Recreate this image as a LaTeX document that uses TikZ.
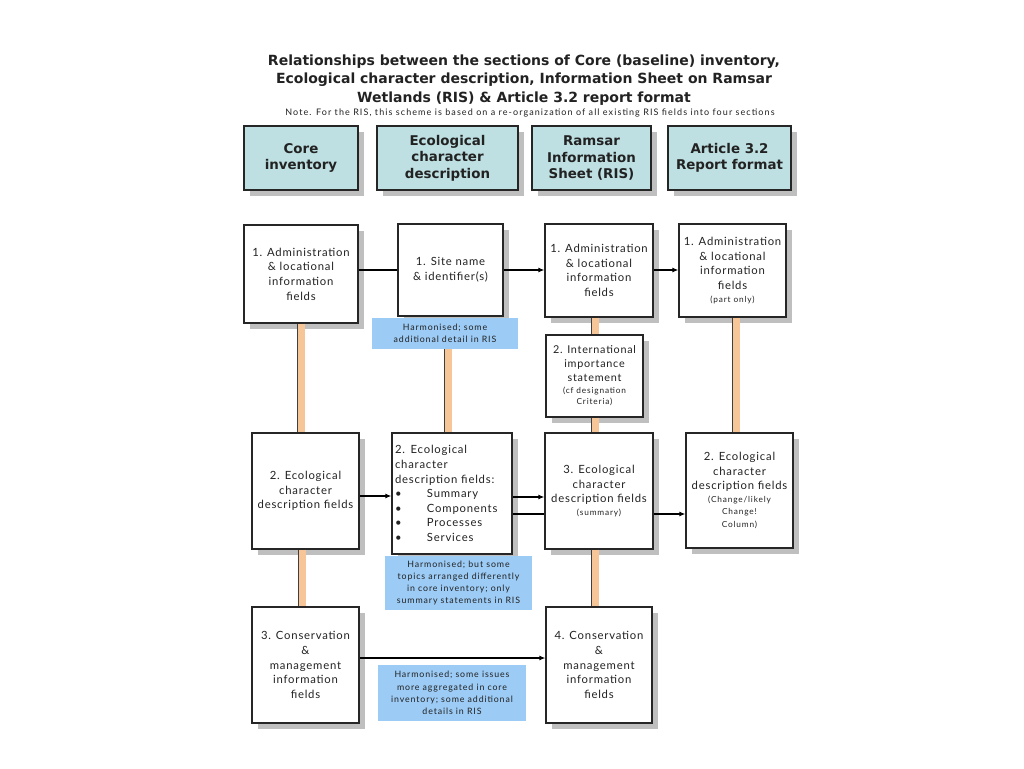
\documentclass[tikz,border=0pt]{standalone}
\usepackage{fontspec}
\setmainfont{Lato}
\newfontfamily\boxfont{Lato}[LetterSpace=7]
\newfontfamily\harmfont{Lato}[LetterSpace=10]
\newfontfamily\notefont{Lato}[LetterSpace=12]
\newfontfamily\hdrfont{DejaVu Sans}
\usetikzlibrary{shadows,arrows.meta,calc}
\definecolor{hdrfill}{HTML}{BEE0E2}
\definecolor{harmfill}{HTML}{9CCBF5}
\definecolor{peach}{HTML}{F6C598}
\definecolor{txt}{HTML}{222222}
\newcommand\smtxt{\harmfont\fontsize{8.3}{11}\selectfont}
\tikzset{
  shd/.style={drop shadow={shadow xshift=6pt,shadow yshift=-6pt,fill=black!25,opacity=1}},
  hdr/.style={draw=black!85,line width=1.2pt,fill=hdrfill,shd,align=center,font=\hdrfont\bfseries\fontsize{13.4}{16.5}\selectfont,text=txt,inner sep=1pt},
  fbox/.style={draw=black!85,line width=1.2pt,fill=white,shd,align=center,font=\boxfont\fontsize{11.3}{14.6}\selectfont,text=txt,inner sep=1pt},
  harm/.style={fill=harmfill,align=center,font=\harmfont\fontsize{8.8}{12.3}\selectfont,text=txt,inner sep=1pt},
  conn/.style={draw=black,line width=1.3pt},
  arr/.style={conn,-{Latex[length=6pt,width=5pt]}},
  bar/.style={draw=black!75,line width=0.7pt,double=peach,double distance=7pt}
}
\begin{document}
\begin{tikzpicture}[x=1pt,y=-1pt]
\useasboundingbox (0,0) rectangle (1024,768);
\fill[white] (0,0) rectangle (1024,768);
% title
\node[align=center,font=\hdrfont\bfseries\fontsize{14}{18.5}\selectfont,text=txt,inner sep=0] (title) at (524,80)
  {Relationships between the sections of Core (baseline) inventory,\\
   Ecological character description, Information Sheet on Ramsar\\
   Wetlands (RIS) \& Article 3.2 report format};
\node[font=\notefont\fontsize{9}{9}\selectfont,text=txt,inner sep=0] (note) at (530,113)
  {Note. For the RIS, this scheme is based on a re-organization of all existing RIS fields into four sections};
% headers
\node[hdr,minimum width=114,minimum height=64] (hci) at (301,158) {Core\\inventory};
\node[hdr,minimum width=141,minimum height=64] (hecd) at (447.5,158) {Ecological\\character\\description};
\node[hdr,minimum width=119,minimum height=64] (hris) at (591.5,158) {Ramsar\\Information\\Sheet (RIS)};
\node[hdr,minimum width=123,minimum height=64] (hart) at (729.5,158) {Article 3.2\\Report format};
\coordinate (ecdbar) at (448,349);
\coordinate (risbar) at (595,317);
\coordinate (artbar) at (736,317);
% row 1
\node[fbox,minimum width=114,minimum height=98] (ci1) at (301,274) {1. Administration\\\& locational\\information\\fields};
\node[fbox,minimum width=105,minimum height=92] (ecd1) at (450.5,270) {1. Site name\\\& identifier(s)};
\node[fbox,minimum width=108,minimum height=93] (ris1) at (599,270.5) {1. Administration\\\& locational\\information\\fields};
\node[fbox,minimum width=107,minimum height=93] (art1) at (732.5,270.5) {1. Administration\\\& locational\\information\\fields\\[-2pt]\smtxt (part only)};
\node[harm,minimum width=146,minimum height=31] (h1) at (445,333.5) {Harmonised; some\\additional detail in RIS};
\node[fbox,minimum width=97,minimum height=82,font=\boxfont\fontsize{10.8}{13.8}\selectfont] (ris2) at (594.5,376) {2. International\\importance\\statement\\[-2pt]\smtxt (cf designation\\[-2pt]\smtxt Criteria)};
% row 2
\node[fbox,minimum width=120,minimum height=121,align=left,text width=114pt,inner sep=2pt] (ecd2) at (452,493.5)
  {2. Ecological\\character\\description fields:\\
   \makebox[32pt][l]{\textbullet}Summary\\
   \makebox[32pt][l]{\textbullet}Components\\
   \makebox[32pt][l]{\textbullet}Processes\\
   \makebox[32pt][l]{\textbullet}Services};
\node[fbox,minimum width=107,minimum height=116] (ci2) at (305.5,491) {2. Ecological\\character\\description fields};
\node[fbox,minimum width=108,minimum height=116] (ris3) at (599,491) {3. Ecological\\character\\description fields\\[-2pt]\smtxt (summary)};
\node[fbox,minimum width=107,minimum height=115] (art2) at (739.5,490.5) {2. Ecological\\character\\description fields\\[-2pt]\smtxt (Change/likely\\[-2pt]\smtxt Change!\\[-2pt]\smtxt Column)};
\node[harm,minimum width=147,minimum height=54] (h2) at (458.5,583) {Harmonised; but some\\topics arranged differently\\in core inventory; only\\summary statements in RIS};
% row 3
\node[fbox,minimum width=107,minimum height=116] (ci3) at (305.5,665) {3. Conservation\\\&\\management\\information\\fields};
\node[fbox,minimum width=106,minimum height=116] (ris4) at (599,665) {4. Conservation\\\&\\management\\information\\fields};
\node[harm,minimum width=148,minimum height=56] (h3) at (452,693) {Harmonised; some issues\\more aggregated in core\\inventory; some additional\\details in RIS};
% vertical bars
\draw[bar] (ci1.south) -- (ci1.south |- ci2.north);
\draw[bar] ([xshift=-3.5pt]ci2.south) -- ([xshift=-3.5pt]ci2.south |- ci3.north);
\draw[bar] (h1.south -| ecdbar) -- (ecdbar |- ecd2.north);
\draw[bar] (ris1.south -| risbar) -- (risbar |- ris2.north);
\draw[bar] (ris2.south -| risbar) -- (risbar |- ris3.north);
\draw[bar] (ris3.south -| risbar) -- (risbar |- ris4.north);
\draw[bar] (art1.south -| artbar) -- (artbar |- art2.north);
% horizontal connectors
\draw[conn] (ci1.east |- ecd1.west) -- (ecd1.west);
\draw[arr] (ecd1.east) -- (ecd1.east -| ris1.west);
\draw[arr] (ris1.east |- ecd1.east) -- (ecd1.east -| art1.west);
\draw[arr] ([yshift=-5pt]ci2.east) -- ([yshift=-5pt]ci2.east -| ecd2.west);
\draw[arr] ([yshift=-3.5pt]ecd2.east) -- ([yshift=-3.5pt]ecd2.east -| ris3.west);
\draw[conn] ([yshift=-20.5pt]ecd2.east) -- ([yshift=-20.5pt]ecd2.east -| ris3.west);
\draw[arr] ([yshift=-23pt]ris3.east) -- ([yshift=-23pt]ris3.east -| art2.west);
\draw[arr] ([yshift=7pt]ci3.east) -- ([yshift=7pt]ci3.east -| ris4.west);
\end{tikzpicture}
\end{document}
